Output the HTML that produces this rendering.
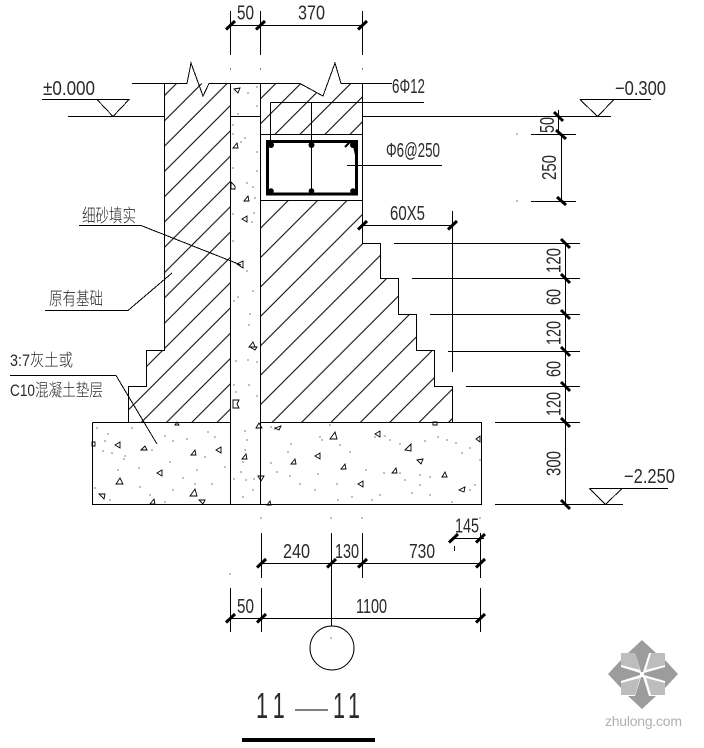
<!DOCTYPE html>
<html><head><meta charset="utf-8"><style>
html,body{margin:0;padding:0;background:#fff;width:704px;height:748px;overflow:hidden}
svg{display:block}
text{font-family:"Liberation Sans","Noto Sans CJK SC",sans-serif;fill:#2a2a2a;font-size:20px}
.c{font-size:18px;font-weight:300}
.d{font-size:17px;font-weight:300}
</style></head><body>
<svg width="704" height="748" viewBox="0 0 704 748" xmlns="http://www.w3.org/2000/svg">
<defs>
<pattern id="hL" patternUnits="userSpaceOnUse" width="25.3" height="25.3" patternTransform="translate(7 0)"><path d="M-2 27.3L27.3 -2M-2 2L2 -2M23.3 27.3L27.3 23.3" stroke="#000" stroke-width="1" fill="none"/></pattern>
<pattern id="hT" patternUnits="userSpaceOnUse" width="25" height="25" patternTransform="translate(9.3 0)"><path d="M-2 27L27 -2M-2 2L2 -2M23 27L27 23" stroke="#000" stroke-width="1" fill="none"/></pattern>
<pattern id="hR" patternUnits="userSpaceOnUse" width="29.4" height="29.4" patternTransform="translate(18.3 0)"><path d="M-2 31.4L31.4 -2M-2 2L2 -2M27.4 31.4L31.4 27.4" stroke="#000" stroke-width="1" fill="none"/></pattern>
</defs>
<rect width="704" height="748" fill="#fff"/>
<polygon fill="url(#hL)" points="164.5,83.5 231,83.5 231,422 128.5,422 128.5,386 146.5,386 146.5,350 164.5,350"/>
<polygon fill="url(#hT)" points="260.5,83.5 300,83.5 323,96 329,83.5 362.5,83.5 362.5,134.5 260.5,134.5"/>
<polygon fill="url(#hR)" points="260.5,200.5 362.5,200.5 362.5,243 380.5,243 380.5,278.5 398.5,278.5 398.5,314.5 416.5,314.5 416.5,350.5 434.5,350.5 434.5,386.5 452.5,386.5 452.5,422 260.5,422"/>

<g fill="none" stroke="#000" stroke-width="1" shape-rendering="crispEdges">
<path d="M132 83.5H187L191 63L203 96L209 83.5H300L323 96L335 63L341 83.5H392"/>
<path d="M164.5 83.5V350.5H146.5V386.5H128.5V422M68 116.5H164.5M230.5 116.5H260.5M362.5 116.5H611"/>
<path d="M230.5 83.5V504.5M260.5 83.5V504.5M92.5 422.5H230.5M260.5 422.5H481.5V504.5H92.5V422.5"/>
<path d="M362.5 83.5V243.5H380.5V278.5H398.5V314.5H416.5V350.5H434.5V386.5H452.5V422"/>
<path d="M260.5 134.5H362.5M260.5 200.5H362.5M270.5 102.5H424M270.5 102.5V142M311.5 102.5V192M347 165.5H442"/>
<path d="M42 99.5H129L113 116.5L97 99.5M580 99.5L597.5 116.5L614 99.5M580 99.5H651M589.5 488.5L605.5 504.5L622 488.5M589.5 488.5H668"/>
<path d="M230.5 11V55M260.5 11V55M362.5 11V55M230.5 25.5H362.5"/>
<path d="M558.5 110V134.5M561.5 134.5V201M531 134.5H576M531 201.5H576"/>
<path d="M362.5 225.5H452.5M452.5 211V372"/>
<path d="M394 243.5H580M412 278.5H580M430 314.5H580M448 351.5H580M466 386.5H580M495 422.5H580M495 504.5H623M565.5 243V504.5"/>
<path d="M79 225.5H141L241 265M45 310.5H128L172 273M10 375.5H116L157 444"/>
<path d="M261.5 533V578M331.5 533V626M362.5 533V578M480.5 533V578M261.5 563.5H480.5M230.5 588V632M261.5 588V632M480.5 588V632M230.5 618.5H480.5M452 538.5H484M454.5 546V551"/>
</g>
<circle cx="332" cy="648" r="22" fill="none" stroke="#000" stroke-width="1"/>

<rect x="267.5" y="141.5" width="89" height="52.5" fill="none" stroke="#000" stroke-width="3"/>
<g fill="#000">
<circle cx="271" cy="145" r="3"/><circle cx="311.5" cy="145" r="3"/><circle cx="353" cy="145" r="3"/><circle cx="271" cy="191" r="2.8"/><circle cx="311.5" cy="191" r="2.8"/><circle cx="353" cy="191" r="2.8"/>
<rect x="242" y="738" width="133" height="4"/>
</g>
<path d="M345 147L351 141M354 146L356 155" stroke="#000" stroke-width="2" fill="none"/>

<!-- ticks -->
<path stroke="#000" stroke-width="3" fill="none" d="M226 29.5L235 21M256 29.5L265 21M358 29.5L367 21M358 229.5L367 221M448 229.5L457 221M257 567.5L266 559M327 567.5L336 559M358 567.5L367 559M476 567.5L485 559M226 622.5L235 614M257 622.5L266 614M476 622.5L485 614M449 542.5L458 534M476 542.5L485 534"/>
<path stroke="#000" stroke-width="3" fill="none" d="M554 112L563 121M556 130L566 139M557 197L566 205M561 239L570 248M561 274L570 283M561 310L570 319M561 347L570 356M561 382L570 391M561 418L570 427M561 500L570 509"/>

<!-- speckle triangles -->
<path fill="none" stroke="#000" stroke-width="0.9" d="M118 445m-3 0l5 -3l0 6zM144 448m-3 2l4 -4l2 4zM194 453m-3 2l4 -5l1 5zM219 450m-3 0l5 -3l0 6zM120 481m-4 3l4 -6l3 6zM160 473m-3 0l5 -3l0 6zM102 496m-3 -2l6 0l-1 5zM194 493m-4 3l5 -7l2 7zM153 502m-3 2l4 -5l1 5zM202 502m-3 -2l6 0l-2 4zM177 423m-2 2l2 -3l2 3zM94 444m-2 -2l3 0l0 4l-3 0zM278 428m-3 0l6 -2l-2 4zM334 436m-4 3l5 -7l2 7zM294 462m-3 2l4 -5l1 5zM318 456m-3 0l5 -3l0 6zM344 467m-3 2l4 -5l1 5zM269 503m-2 2l3 -4l1 4zM259 426m-3 2l3 -5l3 5zM261 478m-3 -2l6 0l-3 5zM245 457m-3 2l4 -5l1 5zM236 403m-3 -3l6 0l-2 4l2 4l-6 0zM252 346m-3 1l4 -5l2 5l-5 0l5 3l2 -3zM241 265m-4 -1l6 -3l0 7zM237 90m-3 -1l6 -1l-2 5zM236 146m-3 2l4 -5l1 5zM232 186m-1 -4l0 7l4 0l0 -3zM247 199m-3 2l4 -5l1 5zM245 219m-3 0l5 -3l0 6zM378 434m-3 0l5 -3l0 6zM409 448m-4 2l6 -6l0 7zM420 462m-3 -2l6 -1l-2 5zM395 471m-3 2l4 -5l1 5zM445 475m-3 2l3 -5l2 5zM462 490m-3 0l6 -3l-1 5zM361 484m-3 0l5 -3l0 6zM479 439m-3 0l4 -3l0 6zM435 423m-2 -1l4 0l0 3l-4 0z"/>

<!-- speckle dots -->
<path stroke="#000" stroke-width="1" stroke-linecap="square" fill="none" shape-rendering="crispEdges" d="M230.5 69h.1M260.5 69h.1M362.5 69h.1M248 93h.1M257 87h.1M257 106h.1M238 114h.1M233 125h.1M233 134h.1M245 138h.1M241 142h.1M257 152h.1M233 168h.1M247 183h.1M257 171h.1M253 187h.1M255 198h.1M233 214h.1M254 213h.1M252 222h.1M233 241h.1M247 271h.1M253 291h.1M238 297h.1M234 301h.1M250 314h.1M249 325h.1M236 361h.1M248 360h.1M257 362h.1M234 385h.1M249 385h.1M257 396h.1M236 392h.1M245 431h.1M247 440h.1M245 450h.1M243 462h.1M241 472h.1M246 480h.1M234 479h.1M254 479h.1M243 497h.1M253 490h.1M97 428h.1M108 434h.1M132 428h.1M105 441h.1M103 451h.1M112 453h.1M124 459h.1M118 470h.1M139 468h.1M152 450h.1M165 436h.1M173 441h.1M187 439h.1M208 432h.1M215 437h.1M225 467h.1M205 457h.1M197 470h.1M183 478h.1M170 462h.1M173 490h.1M195 484h.1M212 484h.1M150 495h.1M165 502h.1M95 488h.1M110 500h.1M140 487h.1M125 456h.1M271 427h.1M275 429h.1M291 444h.1M288 452h.1M271 463h.1M277 472h.1M290 476h.1M300 484h.1M315 490h.1M318 474h.1M337 484h.1M330 425h.1M320 437h.1M322 440h.1M340 445h.1M350 452h.1M366 470h.1M375 437h.1M390 440h.1M400 444h.1M425 441h.1M438 437h.1M447 440h.1M456 443h.1M470 448h.1M480 460h.1M462 453h.1M447 477h.1M430 477h.1M420 475h.1M384 473h.1M385 436h.1M400 473h.1M405 480h.1M412 493h.1M420 485h.1M380 495h.1M372 500h.1M352 497h.1M338 500h.1M470 490h.1M475 485h.1M452 502h.1M430 495h.1M261 518h.1M331 518h.1M362 518h.1M480 518h.1M230 574h.1M517 134h.1M517 201h.1M331 638h.1"/>

<!-- labels -->
<text x="43" y="95" textLength="52" lengthAdjust="spacingAndGlyphs">±0.000</text>
<text x="237" y="19.5" textLength="17" lengthAdjust="spacingAndGlyphs">50</text>
<text x="298" y="19.5" textLength="27" lengthAdjust="spacingAndGlyphs">370</text>
<text x="392" y="93" textLength="33" lengthAdjust="spacingAndGlyphs">6Φ12</text>
<text x="386" y="157" textLength="54" lengthAdjust="spacingAndGlyphs">Φ6@250</text>
<text x="390" y="220" textLength="35" lengthAdjust="spacingAndGlyphs">60X5</text>
<text x="615" y="95" textLength="51" lengthAdjust="spacingAndGlyphs">−0.300</text>
<text x="624" y="483" textLength="51" lengthAdjust="spacingAndGlyphs">−2.250</text>

<text transform="translate(554 133) rotate(-90)" textLength="16" lengthAdjust="spacingAndGlyphs">50</text>
<text transform="translate(556 180) rotate(-90)" textLength="25" lengthAdjust="spacingAndGlyphs">250</text>
<text transform="translate(560.5 273) rotate(-90)" textLength="25" lengthAdjust="spacingAndGlyphs">120</text>
<text transform="translate(560.5 305) rotate(-90)" textLength="16" lengthAdjust="spacingAndGlyphs">60</text>
<text transform="translate(560.5 345) rotate(-90)" textLength="24" lengthAdjust="spacingAndGlyphs">120</text>
<text transform="translate(560.5 377) rotate(-90)" textLength="16" lengthAdjust="spacingAndGlyphs">60</text>
<text transform="translate(560.5 416) rotate(-90)" textLength="24" lengthAdjust="spacingAndGlyphs">120</text>
<text transform="translate(560.5 476) rotate(-90)" textLength="25" lengthAdjust="spacingAndGlyphs">300</text>

<text x="283" y="558" textLength="27" lengthAdjust="spacingAndGlyphs">240</text>
<text x="335" y="558" textLength="24" lengthAdjust="spacingAndGlyphs">130</text>
<text x="409" y="558" textLength="26" lengthAdjust="spacingAndGlyphs">730</text>
<text x="455" y="532.5" textLength="24" lengthAdjust="spacingAndGlyphs">145</text>
<text x="237" y="613" textLength="17" lengthAdjust="spacingAndGlyphs">50</text>
<text x="356" y="613" textLength="31" lengthAdjust="spacingAndGlyphs">1100</text>

<text class="c" x="82" y="222" textLength="54" lengthAdjust="spacingAndGlyphs">细砂填实</text>
<text class="c" x="49" y="305" textLength="54" lengthAdjust="spacingAndGlyphs">原有基础</text>
<text class="d" x="10" y="366" textLength="63" lengthAdjust="spacingAndGlyphs">3:7灰土或</text>
<text class="d" x="10" y="396" textLength="93" lengthAdjust="spacingAndGlyphs">C10混凝土垫层</text>

<text transform="translate(256 718) scale(.6 1)" x="0 28" style="font-size:36px">11</text>
<rect x="295" y="709.5" width="33" height="1" fill="#000"/>
<text transform="translate(333 718) scale(.6 1)" x="0 25" style="font-size:36px">11</text>

<!-- watermark -->
<g fill="#9c9c9c">
<polygon points="642,640 656,653 649,653 643,672 641,672 635,653 628,653"/>
<polygon points="642,709 656,696 649,696 643,677 641,677 635,696 628,696"/>
<polygon points="608,674 621,660 621,667 640,673 640,675 621,681 621,688"/>
<polygon points="678,674 665,660 665,667 644,673 644,675 665,681 665,688"/>
</g>
<g fill="#bdbdbd">
<polygon points="621,653 635,653 640,670 621,665"/>
<polygon points="665,653 651,653 646,670 665,665"/>
<polygon points="621,695 635,695 640,678 621,683"/>
<polygon points="665,695 651,695 646,678 665,683"/>
</g>
<text x="605" y="726" style="font-size:14px;fill:#b0b0b0" textLength="77" lengthAdjust="spacing">zhulong.com</text>
</svg>
</body></html>
